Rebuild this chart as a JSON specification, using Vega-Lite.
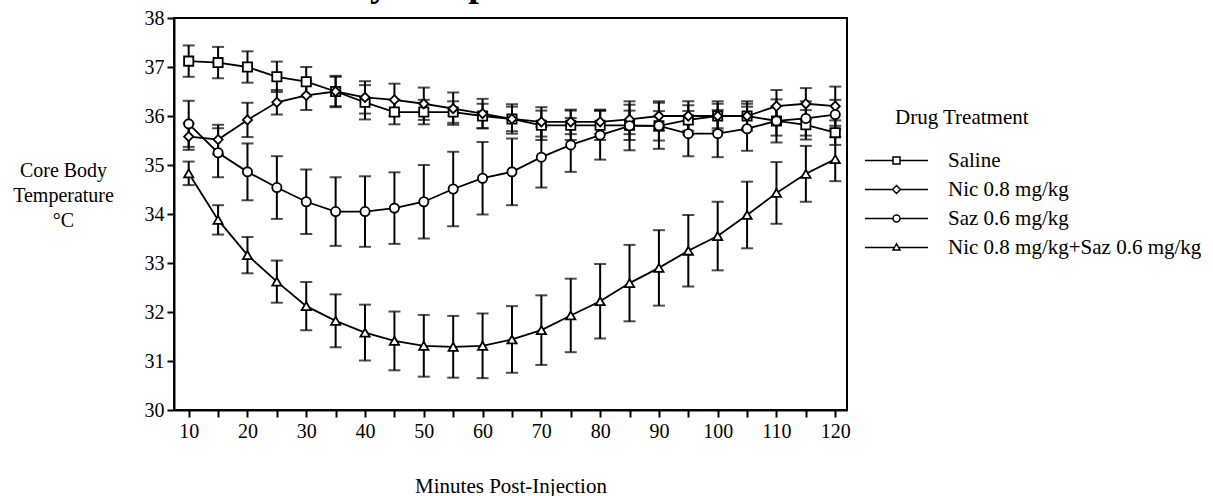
{
  "$schema": "https://vega.github.io/schema/vega-lite/v6.json",
  "autosize": "none",
  "width": 673,
  "height": 392,
  "padding": {"left": 174, "top": 18, "right": 366, "bottom": 86},
  "background": "white",
  "config": {
    "font": "Liberation Serif",
    "view": {"stroke": "black", "strokeWidth": 2},
    "axis": {"domainColor": "black", "domainWidth": 2, "tickColor": "black", "tickWidth": 2, "tickSize": 7, "labelColor": "black", "labelFontSize": 20, "labelFont": "Liberation Serif", "titleFont": "Liberation Serif", "titleColor": "black", "titleFontWeight": "normal", "grid": false},
    "legend": {"labelFont": "Liberation Serif", "titleFont": "Liberation Serif"}
  },
  "resolve": {"scale": {"shape": "independent"}, "axis": {"x": "independent"}},
  "data": {"values": [
    {"Treatment": "Saline", "Minutes": 10, "Temp": 37.12, "SE": 0.32},
    {"Treatment": "Saline", "Minutes": 15, "Temp": 37.09, "SE": 0.32},
    {"Treatment": "Saline", "Minutes": 20, "Temp": 37.0, "SE": 0.32},
    {"Treatment": "Saline", "Minutes": 25, "Temp": 36.8, "SE": 0.31},
    {"Treatment": "Saline", "Minutes": 30, "Temp": 36.7, "SE": 0.3},
    {"Treatment": "Saline", "Minutes": 35, "Temp": 36.5, "SE": 0.32},
    {"Treatment": "Saline", "Minutes": 40, "Temp": 36.28, "SE": 0.35},
    {"Treatment": "Saline", "Minutes": 45, "Temp": 36.08, "SE": 0.25},
    {"Treatment": "Saline", "Minutes": 50, "Temp": 36.08, "SE": 0.25},
    {"Treatment": "Saline", "Minutes": 55, "Temp": 36.08, "SE": 0.22},
    {"Treatment": "Saline", "Minutes": 60, "Temp": 36.0, "SE": 0.25},
    {"Treatment": "Saline", "Minutes": 65, "Temp": 35.94, "SE": 0.25},
    {"Treatment": "Saline", "Minutes": 70, "Temp": 35.81, "SE": 0.3},
    {"Treatment": "Saline", "Minutes": 75, "Temp": 35.81, "SE": 0.3},
    {"Treatment": "Saline", "Minutes": 80, "Temp": 35.81, "SE": 0.3},
    {"Treatment": "Saline", "Minutes": 85, "Temp": 35.81, "SE": 0.3},
    {"Treatment": "Saline", "Minutes": 90, "Temp": 35.8, "SE": 0.3},
    {"Treatment": "Saline", "Minutes": 95, "Temp": 35.92, "SE": 0.3},
    {"Treatment": "Saline", "Minutes": 100, "Temp": 36.0, "SE": 0.25},
    {"Treatment": "Saline", "Minutes": 105, "Temp": 36.0, "SE": 0.25},
    {"Treatment": "Saline", "Minutes": 110, "Temp": 35.9, "SE": 0.3},
    {"Treatment": "Saline", "Minutes": 115, "Temp": 35.82, "SE": 0.3},
    {"Treatment": "Saline", "Minutes": 120, "Temp": 35.66, "SE": 0.25},
    {"Treatment": "Nic 0.8 mg/kg", "Minutes": 10, "Temp": 35.58, "SE": 0.27},
    {"Treatment": "Nic 0.8 mg/kg", "Minutes": 15, "Temp": 35.52, "SE": 0.3},
    {"Treatment": "Nic 0.8 mg/kg", "Minutes": 20, "Temp": 35.92, "SE": 0.35},
    {"Treatment": "Nic 0.8 mg/kg", "Minutes": 25, "Temp": 36.28, "SE": 0.25},
    {"Treatment": "Nic 0.8 mg/kg", "Minutes": 30, "Temp": 36.42, "SE": 0.3},
    {"Treatment": "Nic 0.8 mg/kg", "Minutes": 35, "Temp": 36.5, "SE": 0.3},
    {"Treatment": "Nic 0.8 mg/kg", "Minutes": 40, "Temp": 36.38, "SE": 0.33},
    {"Treatment": "Nic 0.8 mg/kg", "Minutes": 45, "Temp": 36.33, "SE": 0.33},
    {"Treatment": "Nic 0.8 mg/kg", "Minutes": 50, "Temp": 36.25, "SE": 0.33},
    {"Treatment": "Nic 0.8 mg/kg", "Minutes": 55, "Temp": 36.15, "SE": 0.33},
    {"Treatment": "Nic 0.8 mg/kg", "Minutes": 60, "Temp": 36.05, "SE": 0.3},
    {"Treatment": "Nic 0.8 mg/kg", "Minutes": 65, "Temp": 35.94, "SE": 0.3},
    {"Treatment": "Nic 0.8 mg/kg", "Minutes": 70, "Temp": 35.88, "SE": 0.3},
    {"Treatment": "Nic 0.8 mg/kg", "Minutes": 75, "Temp": 35.88, "SE": 0.25},
    {"Treatment": "Nic 0.8 mg/kg", "Minutes": 80, "Temp": 35.88, "SE": 0.25},
    {"Treatment": "Nic 0.8 mg/kg", "Minutes": 85, "Temp": 35.93, "SE": 0.3},
    {"Treatment": "Nic 0.8 mg/kg", "Minutes": 90, "Temp": 36.0, "SE": 0.3},
    {"Treatment": "Nic 0.8 mg/kg", "Minutes": 95, "Temp": 36.0, "SE": 0.3},
    {"Treatment": "Nic 0.8 mg/kg", "Minutes": 100, "Temp": 36.0, "SE": 0.3},
    {"Treatment": "Nic 0.8 mg/kg", "Minutes": 105, "Temp": 36.0, "SE": 0.3},
    {"Treatment": "Nic 0.8 mg/kg", "Minutes": 110, "Temp": 36.2, "SE": 0.33},
    {"Treatment": "Nic 0.8 mg/kg", "Minutes": 115, "Temp": 36.25, "SE": 0.32},
    {"Treatment": "Nic 0.8 mg/kg", "Minutes": 120, "Temp": 36.2, "SE": 0.4},
    {"Treatment": "Saz 0.6 mg/kg", "Minutes": 10, "Temp": 35.84, "SE": 0.47},
    {"Treatment": "Saz 0.6 mg/kg", "Minutes": 15, "Temp": 35.25, "SE": 0.5},
    {"Treatment": "Saz 0.6 mg/kg", "Minutes": 20, "Temp": 34.86, "SE": 0.58},
    {"Treatment": "Saz 0.6 mg/kg", "Minutes": 25, "Temp": 34.54, "SE": 0.64},
    {"Treatment": "Saz 0.6 mg/kg", "Minutes": 30, "Temp": 34.25, "SE": 0.66},
    {"Treatment": "Saz 0.6 mg/kg", "Minutes": 35, "Temp": 34.05, "SE": 0.7},
    {"Treatment": "Saz 0.6 mg/kg", "Minutes": 40, "Temp": 34.05, "SE": 0.72},
    {"Treatment": "Saz 0.6 mg/kg", "Minutes": 45, "Temp": 34.12, "SE": 0.73},
    {"Treatment": "Saz 0.6 mg/kg", "Minutes": 50, "Temp": 34.25, "SE": 0.75},
    {"Treatment": "Saz 0.6 mg/kg", "Minutes": 55, "Temp": 34.51, "SE": 0.76},
    {"Treatment": "Saz 0.6 mg/kg", "Minutes": 60, "Temp": 34.73, "SE": 0.74},
    {"Treatment": "Saz 0.6 mg/kg", "Minutes": 65, "Temp": 34.86, "SE": 0.68},
    {"Treatment": "Saz 0.6 mg/kg", "Minutes": 70, "Temp": 35.16, "SE": 0.62},
    {"Treatment": "Saz 0.6 mg/kg", "Minutes": 75, "Temp": 35.41, "SE": 0.55},
    {"Treatment": "Saz 0.6 mg/kg", "Minutes": 80, "Temp": 35.61, "SE": 0.5},
    {"Treatment": "Saz 0.6 mg/kg", "Minutes": 85, "Temp": 35.8, "SE": 0.5},
    {"Treatment": "Saz 0.6 mg/kg", "Minutes": 90, "Temp": 35.8, "SE": 0.47},
    {"Treatment": "Saz 0.6 mg/kg", "Minutes": 95, "Temp": 35.64, "SE": 0.46},
    {"Treatment": "Saz 0.6 mg/kg", "Minutes": 100, "Temp": 35.64, "SE": 0.48},
    {"Treatment": "Saz 0.6 mg/kg", "Minutes": 105, "Temp": 35.74, "SE": 0.45},
    {"Treatment": "Saz 0.6 mg/kg", "Minutes": 110, "Temp": 35.9, "SE": 0.44},
    {"Treatment": "Saz 0.6 mg/kg", "Minutes": 115, "Temp": 35.95, "SE": 0.35},
    {"Treatment": "Saz 0.6 mg/kg", "Minutes": 120, "Temp": 36.03, "SE": 0.3},
    {"Treatment": "Nic 0.8 mg/kg+Saz 0.6 mg/kg", "Minutes": 10, "Temp": 34.83, "SE": 0.24},
    {"Treatment": "Nic 0.8 mg/kg+Saz 0.6 mg/kg", "Minutes": 15, "Temp": 33.88, "SE": 0.3},
    {"Treatment": "Nic 0.8 mg/kg+Saz 0.6 mg/kg", "Minutes": 20, "Temp": 33.16, "SE": 0.37},
    {"Treatment": "Nic 0.8 mg/kg+Saz 0.6 mg/kg", "Minutes": 25, "Temp": 32.62, "SE": 0.43},
    {"Treatment": "Nic 0.8 mg/kg+Saz 0.6 mg/kg", "Minutes": 30, "Temp": 32.12, "SE": 0.49},
    {"Treatment": "Nic 0.8 mg/kg+Saz 0.6 mg/kg", "Minutes": 35, "Temp": 31.82, "SE": 0.54},
    {"Treatment": "Nic 0.8 mg/kg+Saz 0.6 mg/kg", "Minutes": 40, "Temp": 31.58, "SE": 0.57},
    {"Treatment": "Nic 0.8 mg/kg+Saz 0.6 mg/kg", "Minutes": 45, "Temp": 31.41, "SE": 0.6},
    {"Treatment": "Nic 0.8 mg/kg+Saz 0.6 mg/kg", "Minutes": 50, "Temp": 31.31, "SE": 0.63},
    {"Treatment": "Nic 0.8 mg/kg+Saz 0.6 mg/kg", "Minutes": 55, "Temp": 31.29, "SE": 0.63},
    {"Treatment": "Nic 0.8 mg/kg+Saz 0.6 mg/kg", "Minutes": 60, "Temp": 31.31, "SE": 0.66},
    {"Treatment": "Nic 0.8 mg/kg+Saz 0.6 mg/kg", "Minutes": 65, "Temp": 31.44, "SE": 0.68},
    {"Treatment": "Nic 0.8 mg/kg+Saz 0.6 mg/kg", "Minutes": 70, "Temp": 31.63, "SE": 0.71},
    {"Treatment": "Nic 0.8 mg/kg+Saz 0.6 mg/kg", "Minutes": 75, "Temp": 31.93, "SE": 0.75},
    {"Treatment": "Nic 0.8 mg/kg+Saz 0.6 mg/kg", "Minutes": 80, "Temp": 32.22, "SE": 0.76},
    {"Treatment": "Nic 0.8 mg/kg+Saz 0.6 mg/kg", "Minutes": 85, "Temp": 32.59, "SE": 0.78},
    {"Treatment": "Nic 0.8 mg/kg+Saz 0.6 mg/kg", "Minutes": 90, "Temp": 32.9, "SE": 0.77},
    {"Treatment": "Nic 0.8 mg/kg+Saz 0.6 mg/kg", "Minutes": 95, "Temp": 33.25, "SE": 0.73},
    {"Treatment": "Nic 0.8 mg/kg+Saz 0.6 mg/kg", "Minutes": 100, "Temp": 33.55, "SE": 0.7},
    {"Treatment": "Nic 0.8 mg/kg+Saz 0.6 mg/kg", "Minutes": 105, "Temp": 33.98, "SE": 0.68},
    {"Treatment": "Nic 0.8 mg/kg+Saz 0.6 mg/kg", "Minutes": 110, "Temp": 34.43, "SE": 0.63},
    {"Treatment": "Nic 0.8 mg/kg+Saz 0.6 mg/kg", "Minutes": 115, "Temp": 34.82, "SE": 0.57},
    {"Treatment": "Nic 0.8 mg/kg+Saz 0.6 mg/kg", "Minutes": 120, "Temp": 35.12, "SE": 0.45}
  ]},
  "encoding": {
    "y": {"field": "Temp", "type": "quantitative", "scale": {"domain": [30, 38], "nice": false, "zero": false},
      "axis": {"values": [30,31,32,33,34,35,36,37,38], "labelPadding": 3, "title": ["Core Body", "Temperature", "°C"], "titleAngle": 0, "titleX": -111, "titleY": 142, "titleAlign": "center", "titleBaseline": "top", "titleFontSize": 20, "titleLineHeight": 25}}
  },
  "layer": [
    {"mark": {"type": "errorbar", "ticks": {"size": 12}, "thickness": 2, "color": "black"},
     "encoding": {
       "x": {"field": "Minutes", "type": "quantitative", "scale": {"domain": [7.5, 122], "nice": false, "zero": false},
         "axis": {"values": [10,15,20,25,30,35,40,45,50,55,60,65,70,75,80,85,90,95,100,105,110,115,120], "labelExpr": "datum.value % 10 === 0 ? datum.label : ''", "labelPadding": 4, "title": "Minutes Post-Injection", "titleFontSize": 21, "titlePadding": 34}},
       "yError": {"field": "SE"}, "detail": {"field": "Treatment"}}},
    {"mark": {"type": "line", "color": "black", "strokeWidth": 1.8},
     "encoding": {
       "x": {"field": "Minutes", "type": "quantitative", "axis": null},
       "detail": {"field": "Treatment"}}},
    {"mark": {"type": "point", "filled": true, "fill": "white", "stroke": "black", "strokeWidth": 1.8, "size": 85, "opacity": 1},
     "encoding": {
       "x": {"field": "Minutes", "type": "quantitative", "axis": null},
       "shape": {"field": "Treatment", "type": "nominal",
         "scale": {"domain": ["Saline", "Nic 0.8 mg/kg", "Saz 0.6 mg/kg", "Nic 0.8 mg/kg+Saz 0.6 mg/kg"], "range": ["square", "diamond", "circle", "triangle-up"]},
         "legend": null}
     }},
    {"transform": [{"filter": "datum.Minutes < 0"}],
     "mark": {"type": "point", "filled": true, "fill": "white", "stroke": "black", "strokeWidth": 1.5, "size": 100, "opacity": 1},
     "encoding": {
       "x": {"field": "Minutes", "type": "quantitative",
         "axis": {"orient": "top", "domain": false, "ticks": false, "labels": false, "title": "Core Body Temperature", "titleFontSize": 38, "titleFontWeight": "bold", "titleAlign": "left", "titleAnchor": "start", "titleAngle": 0, "titleBaseline": "alphabetic", "titleX": 41, "titleY": -23}},
       "shape": {"field": "Treatment", "type": "nominal",
         "scale": {"domain": ["Saline", "Nic 0.8 mg/kg", "Saz 0.6 mg/kg", "Nic 0.8 mg/kg+Saz 0.6 mg/kg"],
           "range": [
             "M-8.1,0L-2.5,0M-1.1,0L4.5,0M-2.5,-0.7L-1.1,-0.7L-1.1,0.7L-2.5,0.7Z",
             "M-8.1,0L-2.6,0M-1,0L4.5,0M-2.6,0L-1.8,-0.8L-1,0L-1.8,0.8Z",
             "M-8.1,0L-2.5,0M-1.1,0L4.5,0M-2.5,0A0.7,0.7 0 1,0 -1.1,0A0.7,0.7 0 1,0 -2.5,0Z",
             "M-8.1,0L-2.2,0M-1.4,0L4.5,0M-2.5,0.5L-1.8,-0.75L-1.1,0.5Z"
           ]},
         "legend": {"orient": "none", "legendX": 721, "legendY": 89, "title": "Drug Treatment", "titleFontSize": 21, "titleFontWeight": "normal", "titleColor": "black", "titlePadding": 22, "labelFontSize": 21, "labelColor": "black", "labelOffset": 32, "labelLimit": 0, "rowPadding": 7, "symbolSize": 100}}
     }}
  ]
}
